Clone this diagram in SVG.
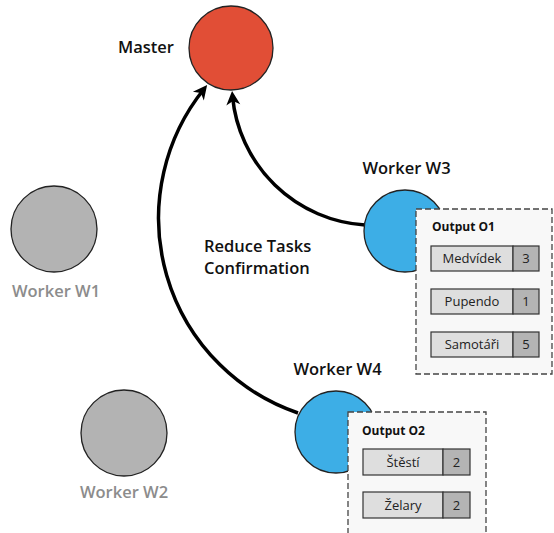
<svg xmlns="http://www.w3.org/2000/svg" width="554" height="533" viewBox="0 0 554 533">
<style>
.lbl{font-family:"Open Sans","Liberation Sans",sans-serif;font-weight:600;font-size:16.5px;fill:#111}
.grey{fill:#8c8c8c}
.node{stroke:#222;stroke-width:1.3}
.box{fill:#f8f8f8;stroke:#444;stroke-width:1.3;stroke-dasharray:6,3}
.title{font-family:"Open Sans","Liberation Sans",sans-serif;font-weight:700;font-size:12px;fill:#111}
.cell{fill:#dedede;stroke:#333;stroke-width:1.2}
.num{fill:#b4b4b4;stroke:#333;stroke-width:1.2}
.ct{font-family:"Open Sans","Liberation Sans",sans-serif;font-size:13px;fill:#222;text-anchor:middle}
.conn{fill:none;stroke:#000;stroke-width:3.5}
</style>
<defs>
<marker id="ah" markerUnits="userSpaceOnUse" viewBox="-12 -8 18 16" markerWidth="18" markerHeight="16" refX="0" refY="0" orient="auto">
<path d="M-9,-7 L5,0 L-9,7 L-5,0 z" fill="#000"/>
</marker>
</defs>
<g id="connectors">
<path class="conn" d="M298,413 A206,206 0 0 1 204,89" marker-end="url(#ah)"/>
<path class="conn" d="M365,225 A142,142 0 0 1 232.5,96" marker-end="url(#ah)"/>
<text class="lbl" x="204" y="252" font-size="14.5">Reduce Tasks</text>
<text class="lbl" x="204" y="274" font-size="14.5">Confirmation</text>
</g>
<g id="master">
<circle class="node" cx="231" cy="48" r="42" fill="#e14e36"/>
<text class="lbl" x="174" y="53" text-anchor="end">Master</text>
</g>
<g id="w1">
<circle class="node" cx="54" cy="229" r="43" fill="#b3b3b3"/>
<text class="lbl grey" x="56" y="297" text-anchor="middle">Worker W1</text>
</g>
<g id="w2">
<circle class="node" cx="124" cy="433" r="43" fill="#b3b3b3"/>
<text class="lbl grey" x="124" y="498" text-anchor="middle">Worker W2</text>
</g>
<g id="w3">
<circle class="node" cx="405" cy="231" r="41" fill="#3daee6"/>
<text class="lbl" x="406.5" y="173.5" text-anchor="middle">Worker W3</text>
</g>
<g id="o1">
<rect class="box" x="416" y="209" width="136" height="165"/>
<text class="title" x="432" y="231">Output O1</text>
<rect class="cell" x="431" y="246" width="82" height="25"/><rect class="num" x="513" y="246" width="26" height="25"/>
<text class="ct" x="472" y="263">Medvídek</text><text class="ct" x="526" y="263">3</text>
<rect class="cell" x="431" y="289" width="82" height="25"/><rect class="num" x="513" y="289" width="26" height="25"/>
<text class="ct" x="472" y="306">Pupendo</text><text class="ct" x="526" y="306">1</text>
<rect class="cell" x="431" y="332" width="82" height="25"/><rect class="num" x="513" y="332" width="26" height="25"/>
<text class="ct" x="472" y="349">Samotáři</text><text class="ct" x="526" y="349">5</text>
</g>
<g id="w4">
<circle class="node" cx="336" cy="432" r="41" fill="#3daee6"/>
<text class="lbl" x="337.5" y="375" text-anchor="middle">Worker W4</text>
</g>
<g id="o2">
<rect class="box" x="348" y="412" width="138" height="130"/>
<text class="title" x="362" y="435">Output O2</text>
<rect class="cell" x="363" y="449" width="80" height="26"/><rect class="num" x="443" y="449" width="27" height="26"/>
<text class="ct" x="403" y="467">Štěstí</text><text class="ct" x="456.5" y="467">2</text>
<rect class="cell" x="363" y="492" width="80" height="26"/><rect class="num" x="443" y="492" width="27" height="26"/>
<text class="ct" x="403" y="510">Želary</text><text class="ct" x="456.5" y="510">2</text>
</g>
</svg>
